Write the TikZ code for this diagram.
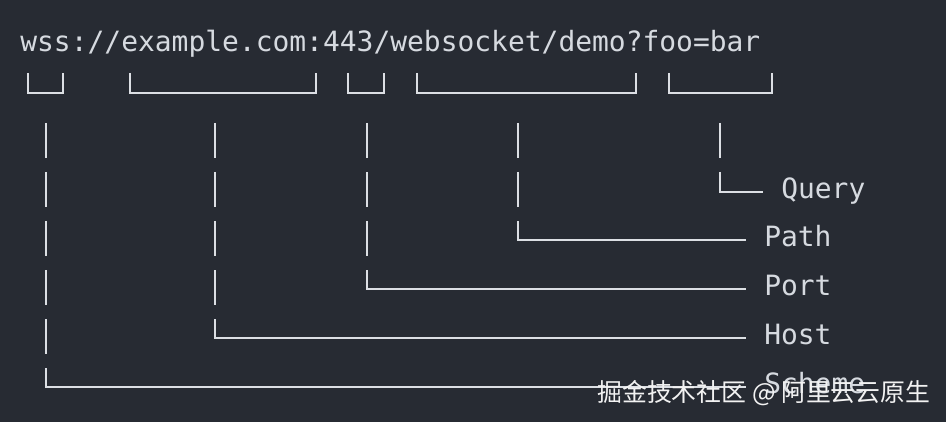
\documentclass[tikz,border=0pt]{standalone}
\usepackage{fontspec}
\setmonofont{DejaVu Sans Mono}
\newfontfamily\cjk{Noto Sans CJK SC}
\usepackage{xcolor}
\definecolor{bg}{HTML}{272B33}
\definecolor{fg}{HTML}{D6DAE0}
\definecolor{wire}{HTML}{DCDFE4}
\tikzset{
    wire/.style={draw=wire, line width=1.1pt},
    lbl/.style={anchor=west, text=fg, inner xsep=10.2pt, inner ysep=0pt,
        text height=11.3pt, text depth=3.4pt,
        font=\ttfamily\fontsize{15.9pt}{19pt}\selectfont},
}

\begin{document}
\begin{tikzpicture}[x=0.02cm, y=-0.02cm]
    \fill[bg] (0,0) rectangle (946,422);
    \node[anchor=base west, inner sep=0pt, text=fg, font=\ttfamily\fontsize{15.9pt}{19pt}\selectfont]
        (url) at (20,52) {wss://example.com:443/websocket/demo?foo=bar};
    \foreach \a/\b in {28/63, 130/316, 348/384, 417/636, 669/772}
        \draw[wire] (\a,73) |- (\b,93) -- (\b,73);
    \node[lbl] (query) at (763,192) {Query};
    \node[lbl] (path) at (746,240) {Path};
    \node[lbl] (port) at (746,289) {Port};
    \node[lbl] (host) at (746,338) {Host};
    \node[lbl] (scheme) at (746,387) {Scheme};
    \foreach \c/\n/\l in {46/5/scheme, 215/4/host, 367/3/port, 518/2/path, 720/1/query}{
        \foreach \k in {1,...,\n}
            \draw[wire] (\c,{74+49*\k}) -- ++(0,35);
        \draw[wire] (\c,{74+49*(\n+1)}) |- (\l.west);
    }
    \node[anchor=base west, inner sep=0pt, text=white!90!gray, font=\cjk\fontsize{14.15pt}{17pt}\selectfont]
        (watermark) at (597,401) {掘金技术社区 @ 阿里云云原生};
\end{tikzpicture}
\end{document}
